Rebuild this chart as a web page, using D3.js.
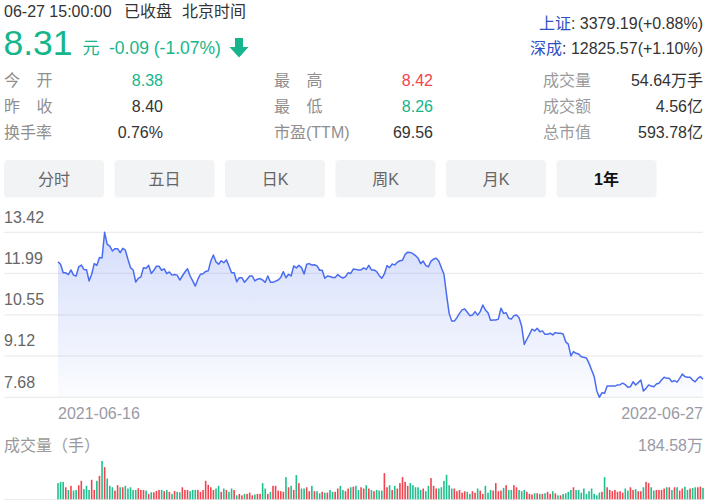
<!DOCTYPE html>
<html>
<head>
<meta charset="utf-8">
<script src="https://cdn.jsdelivr.net/npm/d3@7"></script>
<style>
  body { margin: 0; background: #fff; }
  svg text { font-family: "Liberation Sans", Arial, "Noto Sans CJK SC", sans-serif; }
</style>
</head>
<body>
<div id="chart"></div>
<script>
// daily close, 2021-06-16 .. 2022-06-27
const prices = [
  12.39,12.31,12.01,12.01,11.95,12.11,11.93,11.90,12.22,12.28,
  12.13,12.12,11.73,11.96,12.33,12.27,12.54,12.53,13.42,13.00,
  12.94,12.77,12.85,12.85,12.71,12.86,12.80,12.48,12.19,12.11,
  11.69,11.82,11.87,12.19,12.17,12.27,11.99,12.10,12.24,12.24,
  12.10,12.15,11.98,12.04,11.93,11.95,11.93,11.76,11.90,12.04,
  12.15,11.90,11.73,11.55,11.79,11.96,11.98,12.06,12.08,12.42,
  12.63,12.39,12.31,12.43,12.36,
  12.46,12.25,12.01,12.01,11.70,11.84,11.84,11.68,11.79,11.90,
  11.90,11.73,11.79,11.81,11.76,11.68,11.90,11.68,11.68,11.72,
  11.76,11.85,12.05,11.84,11.96,11.90,12.25,12.18,12.27,12.19,
  11.97,12.31,12.33,12.28,12.29,12.25,12.10,12.10,11.82,11.90,
  11.88,11.85,11.85,11.95,11.88,11.83,11.88,12.01,11.99,12.14,
  12.13,12.11,12.11,12.18,12.13,12.27,12.11,12.11,12.05,11.92,
  11.82,11.97,12.26,
  12.19,12.32,12.28,12.38,12.43,12.45,12.65,12.73,12.72,12.68,
  12.61,12.52,12.33,12.42,12.26,12.22,12.42,12.49,12.52,12.42,
  12.19,11.96,11.25,10.60,10.33,10.33,10.45,10.60,10.72,10.75,
  10.64,10.52,10.54,10.66,10.54,10.66,10.89,10.72,10.62,10.36,
  10.37,10.37,10.40,10.78,10.60,10.62,10.43,10.40,10.52,10.54,
  10.45,10.15,9.52,9.70,9.87,10.05,9.99,10.08,9.96,9.99,
  9.87,9.87,9.91,
  9.85,9.93,9.91,9.91,9.88,9.61,9.53,9.12,9.27,9.21,
  9.19,9.09,9.07,9.05,8.86,8.63,8.40,7.90,7.68,7.84,
  7.82,8.07,8.07,8.07,8.07,8.11,8.12,8.17,8.12,8.03,
  8.05,8.22,8.11,8.19,8.28,7.90,7.99,8.11,8.07,8.05,
  8.14,8.17,8.28,8.38,8.34,8.34,8.22,8.26,8.21,8.34,
  8.49,8.40,8.38,8.38,8.28,8.22,8.34,8.40,8.31
];

// daily volume, 万手
const volumes = [
  78,84,84,58,45,65,42,45,68,89, 49,65,45,94,45,89,113,184.58,155,100,
  65,58,42,68,58,58,65,52,58,45, 45,53,45,45,42,26,34,34,40,45,
  45,39,45,36,26,40,36,34,58,45, 45,39,45,45,45,36,45,89,70,58,
  45,52,65,36,52,45,36,52,45,19, 26,19,26,26,32,19,23,26,26,78,
  52,26,36,65,65,42,39,36,107,58, 65,45,117,78,52,52,58,39,65,39,
  39,29,36,32,32,45,36,36,52,65, 45,39,52,58,61,65,
  45,58,52,68,52,45,39,45,42,42, 126,58,68,45,65,52,78,107,84,65,
  78,68,58,58,45,52,39,65,102,65, 52,52,58,89,118,68,52,52,39,45,
  32,39,36,26,39,32,52,42,26,65, 32,45,42,78,39,42,55,68,45,45,
  68,58,45,39,45,36,26,23,29,29, 26,26,29,36,26,39,29,19,19,26,
  29,36,45,58,45,45,32,52,26,39, 52,26,19,32,36,107,58,45,39,45,
  36,39,32,52,42,58,45,49,39,39, 58,84,78,58,42,45,45,45,52,58,
  58,45,58,58,42,52,61,45,52,55, 58,58,61,55
];

const priceTicks = [13.42, 11.99, 10.55, 9.12, 7.68];
const dateLabels = ["2021-06-16", "2022-06-27"];
const volumeMax = 184.58;
const tabs = ["分时", "五日", "日K", "周K", "月K", "1年"];

const statRows = [
  [["今","开"], "8.38", "up0", ["最","高"], "8.42", "up", ["成交量"], "54.64万手"],
  [["昨","收"], "8.40", "", ["最","低"], "8.26", "down", ["成交额"], "4.56亿"],
  [["换手率"], "0.76%", "", ["市盈(TTM)"], "69.56", "", ["总市值"], "593.78亿"]
];
const indices = [["上证", ": 3379.19(+0.88%)"], ["深成", ": 12825.57(+1.10%)"]];

const W = 719, H = 501;
const green = "#16b58b", red = "#f2434f", dark = "#333", gray = "#8f8f8f";

const svg = d3.select("#chart").append("svg")
  .attr("width", W).attr("height", H);

// ---- header ----
svg.append("text").attr("x", 4).attr("y", 17).attr("font-size", 16).attr("fill", dark).text("06-27 15:00:00");
svg.append("text").attr("x", 124).attr("y", 17).attr("font-size", 16).attr("fill", dark).text("已收盘");
svg.append("text").attr("x", 182).attr("y", 17).attr("font-size", 16).attr("fill", dark).text("北京时间");

svg.append("text").attr("x", 3.5).attr("y", 55).attr("font-size", 35.5).attr("fill", green).text("8.31");
svg.append("text").attr("x", 82.5).attr("y", 54).attr("font-size", 17).attr("fill", green).text("元");
svg.append("text").attr("x", 109).attr("y", 54).attr("font-size", 17.5).attr("fill", green).text("-0.09 (-1.07%)");
svg.append("path")
  .attr("d", "M235,38 H243 V47 H248.5 L239,57.5 L229.5,47 H235 Z")
  .attr("fill", green);

indices.forEach((d, i) => {
  const t = svg.append("text").attr("x", 703).attr("y", 28.5 + i * 25.5)
    .attr("text-anchor", "end").attr("font-size", 16);
  t.append("tspan").attr("fill", "#2f4fc4").text(d[0]);
  t.append("tspan").attr("fill", dark).text(d[1]);
});

const rowY = [86, 112, 137.5];
function label(x, y, parts, color) {
  if (parts.length === 2) {
    svg.append("text").attr("x", x).attr("y", y).attr("font-size", 16).attr("fill", color).text(parts[0]);
    svg.append("text").attr("x", x + 32.5).attr("y", y).attr("font-size", 16).attr("fill", color).text(parts[1]);
  } else {
    svg.append("text").attr("x", x).attr("y", y).attr("font-size", 16).attr("fill", color).text(parts[0]);
  }
}
function valueColor(k) {
  if (k === "up") return red;
  if (k === "up0" || k === "down") return green;
  return dark;
}
statRows.forEach((r, i) => {
  const y = rowY[i];
  label(4, y, r[0], gray);
  svg.append("text").attr("x", 163).attr("y", y).attr("text-anchor", "end").attr("font-size", 16)
    .attr("fill", valueColor(r[2])).text(r[1]);
  label(274, y, r[3], gray);
  svg.append("text").attr("x", 433).attr("y", y).attr("text-anchor", "end").attr("font-size", 16)
    .attr("fill", valueColor(r[5])).text(r[4]);
  label(543, y, r[6], "#9a9a9a");
  svg.append("text").attr("x", 703).attr("y", y).attr("text-anchor", "end").attr("font-size", 16)
    .attr("fill", dark).text(r[7]);
});

// ---- tabs ----
const tab = svg.append("g").selectAll("g").data(tabs).enter().append("g")
  .attr("transform", (d, i) => `translate(${4 + i * 110.5},160)`);
tab.append("rect").attr("width", 100).attr("height", 37.5).attr("rx", 4).attr("fill", "#f2f3f5");
tab.append("text").attr("x", 50).attr("y", 24.5).attr("text-anchor", "middle").attr("font-size", 16)
  .attr("fill", (d, i) => i === tabs.length - 1 ? "#111" : "#666")
  .attr("font-weight", (d, i) => i === tabs.length - 1 ? "bold" : "normal")
  .text(d => d);

// ---- price chart ----
const x = d3.scaleLinear().domain([0, prices.length - 1]).range([58, 703]);
const y = d3.scaleLinear().domain([7.68, 13.42]).range([397.3, 232.3]);

svg.append("g").selectAll("line").data(priceTicks).enter().append("line")
  .attr("x1", 4).attr("x2", 703)
  .attr("y1", d => y(d)).attr("y2", d => y(d))
  .attr("stroke", "#ececec").attr("stroke-width", 1.2);

svg.append("g").selectAll("text").data(priceTicks).enter().append("text")
  .attr("x", 4).attr("y", d => y(d) - 9.5)
  .attr("font-size", 16).attr("fill", "#666")
  .text(d => d.toFixed(2));

const defs = svg.append("defs");
const grad = defs.append("linearGradient").attr("id", "fill").attr("x1", 0).attr("y1", 0).attr("x2", 0).attr("y2", 1);
grad.append("stop").attr("offset", "0%").attr("stop-color", "#5b7cf0").attr("stop-opacity", 0.26);
grad.append("stop").attr("offset", "100%").attr("stop-color", "#5b7cf0").attr("stop-opacity", 0.02);

svg.append("path").datum(prices)
  .attr("fill", "url(#fill)")
  .attr("d", d3.area().x((d, i) => x(i)).y0(y(7.68)).y1(d => y(d)));

svg.append("path").datum(prices)
  .attr("fill", "none").attr("stroke", "#4a6cf0").attr("stroke-width", 1.5)
  .attr("stroke-linejoin", "round")
  .attr("d", d3.line().x((d, i) => x(i)).y(d => y(d)));

svg.append("text").attr("x", 58).attr("y", 419).attr("font-size", 16).attr("fill", "#9a9aa6").text(dateLabels[0]);
svg.append("text").attr("x", 703).attr("y", 419).attr("text-anchor", "end").attr("font-size", 16).attr("fill", "#9a9aa6").text(dateLabels[1]);

// ---- volume ----
svg.append("text").attr("x", 4).attr("y", 451).attr("font-size", 16).attr("fill", "#999").text("成交量（手）");
svg.append("text").attr("x", 703).attr("y", 450.5).attr("text-anchor", "end").attr("font-size", 16)
  .attr("fill", "#9a9aa6").text(volumeMax.toFixed(2) + "万");

const vy = d3.scaleLinear().domain([0, volumeMax]).range([499.3, 461]);

svg.append("line").attr("x1", 4).attr("x2", 703).attr("y1", 499.5).attr("y2", 499.5)
  .attr("stroke", "#ececec");

svg.append("g").selectAll("rect").data(volumes).enter().append("rect")
  .attr("x", (d, i) => x(i) - 0.8)
  .attr("width", 1.6)
  .attr("y", d => vy(d))
  .attr("height", d => vy(0) - vy(d))
  .attr("fill", (d, i) => (i > 0 && prices[i] >= prices[i - 1]) ? red : "#1ec08e");
</script>
</body>
</html>
